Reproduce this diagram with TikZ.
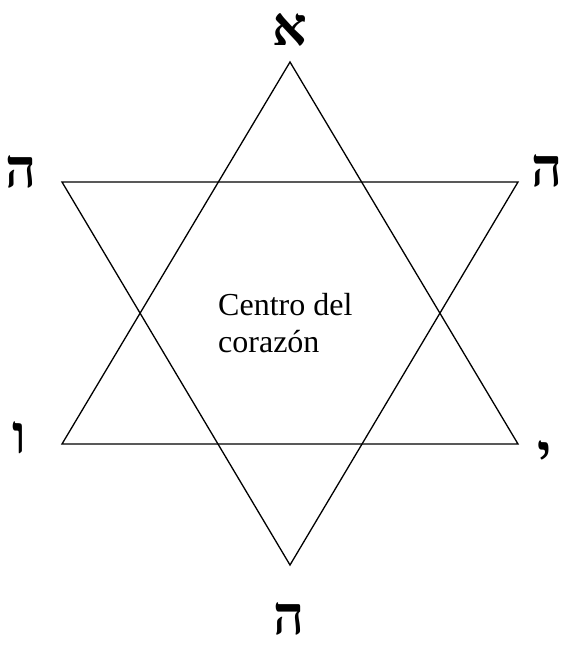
\documentclass[tikz,border=0pt]{standalone}
\usepackage{fontspec}
\setmainfont{Liberation Serif}
\newfontfamily\hebfont[Script=Hebrew]{Liberation Serif}
\TeXXeTstate=1
\usetikzlibrary{calc}

\tikzset{
  letra/.style={anchor=base,inner sep=0pt,font=\hebfont\bfseries\fontsize{54}{54}\selectfont},
  lado/.style={line width=1.3pt,line join=miter}
}

\begin{document}
\begin{tikzpicture}[x=1pt,y=-1pt]
\useasboundingbox (0,0) rectangle (563,648);

%% sommets des deux triangles
\coordinate (A) at (290,62);
\coordinate (Bg) at (62,444);
\coordinate (Bd) at (518,444);
\coordinate (Hg) at (62,182);
\coordinate (Hd) at (518,182);
\coordinate (Z) at (290,565);

\draw[lado] (A)--(Bd)--(Bg)--cycle;
\draw[lado] (Hg)--(Hd)--(Z)--cycle;

%% lettres autour de l'etoile
\node[letra] (alef) at (290,45) {\beginR א\endR};
\node[letra] (heg) at (21,187) {\beginR ה\endR};
\node[letra] (hed) at (547,186) {\beginR ה\endR};
\node[letra] (vav) at (19,453) {\beginR ו\endR};
\node[letra] (yod) at (545,472) {\beginR י\endR};
\node[letra] (heb) at (289,634) {\beginR ה\endR};

\node[anchor=base west,align=left,inner sep=0pt,font=\fontsize{32}{37}\selectfont] (centre) at (218,352) {Centro del\\corazón};
\end{tikzpicture}
\end{document}
